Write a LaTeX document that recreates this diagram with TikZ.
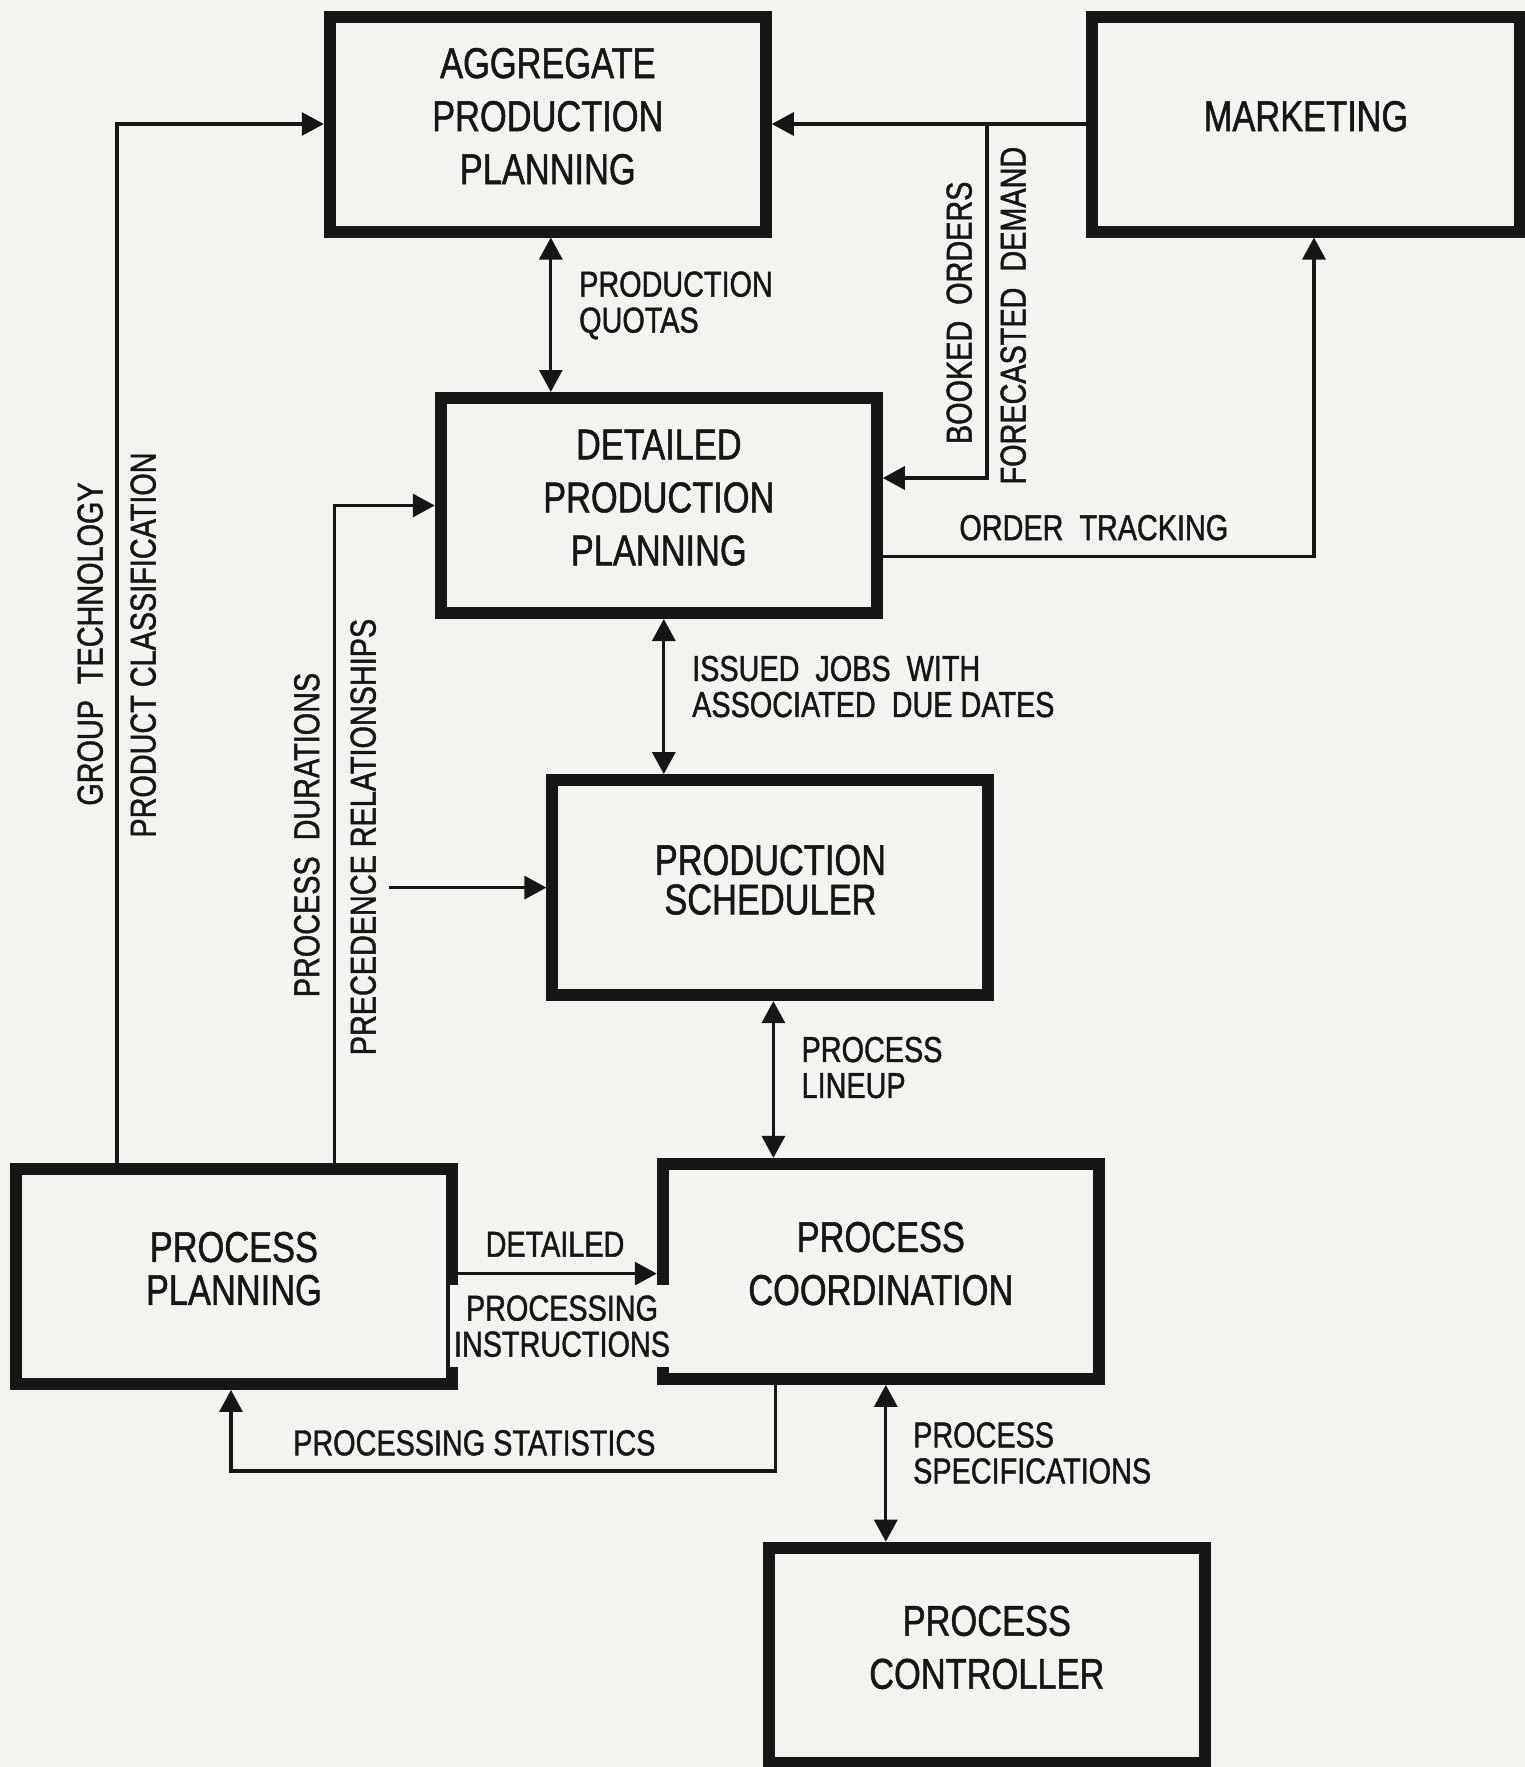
\documentclass[tikz,border=0pt]{standalone}
\usepackage{fontspec}
\setmainfont{Liberation Sans}[FakeStretch=0.8,FakeBold=1.2]
\usetikzlibrary{arrows.meta}
\definecolor{bg}{RGB}{243,243,239}
\definecolor{ink}{RGB}{22,22,22}
\begin{document}
\begin{tikzpicture}[x=1pt,y=-1pt,
  box/.style={draw=ink, line width=12pt, minimum width=436pt, minimum height=215pt,
    inner sep=0pt, align=center, text depth=16pt, text=ink,
    font=\fontsize{43}{53}\selectfont},
  lab/.style={inner sep=0pt, align=left, text depth=0pt, text=ink,
    font=\fontsize{36}{36}\selectfont},
  tip/.tip={Triangle[length=22pt,width=23pt]},
  conn/.style={draw=ink, line width=3.2pt, -tip},
  dbl/.style={draw=ink, line width=3.2pt, tip-tip}
]
\fill[bg] (0,0) rectangle (1525,1767);
\useasboundingbox (0,0) rectangle (1525,1767);

% boxes
\node[box] (app) at (547.8,124) {AGGREGATE\\PRODUCTION\\PLANNING};
\node[box, minimum width=428pt] (mkt) at (1306,124) {MARKETING};
\node[box] (dpp) at (658.8,505.5) {DETAILED\\PRODUCTION\\PLANNING};
\node[box, font=\fontsize{43}{39.5}\selectfont] (ps) at (770.4,887.6) {PRODUCTION\\SCHEDULER};
\node[box, font=\fontsize{43}{43}\selectfont] (pp) at (233.9,1276.4) {PROCESS\\PLANNING};
\node[box] (pc) at (880.8,1271.4) {PROCESS\\COORDINATION};
\node[box] (pctl) at (986.8,1655.2) {PROCESS\\CONTROLLER};

% vertical double arrows
\draw[dbl] ([xshift=3pt]app.south) -- ([xshift=3pt]app.south |- dpp.north);
\draw[dbl] ([xshift=5pt]dpp.south) -- ([xshift=5pt]dpp.south |- ps.north);
\draw[dbl] ([xshift=3pt]ps.south) -- ([xshift=3pt]ps.south |- pc.north);
\draw[dbl] ([xshift=5pt]pc.south) -- ([xshift=5pt]pc.south |- pctl.north);

% marketing links
\coordinate (br) at (987,124);
\coordinate (bo) at (987,478);
\draw[conn] (mkt.west) -- (app.east);
\draw[conn] (br) -- (bo) -- (bo -| dpp.east);
\coordinate (ot) at (1314,556.8);
\draw[conn] (ot -| dpp.east) -- (ot) -- (ot |- mkt.south);

% process planning links
\coordinate (gt) at (117,124);
\draw[conn] (gt |- pp.north) -- (gt) -- (app.west);
\coordinate (pd) at (334.7,505.5);
\draw[conn] (pd |- pp.north) -- (pd) -- (dpp.west);
\coordinate (pr) at (389,887.6);
\draw[conn] (pr) -- (ps.west);
\coordinate (di) at (0,1273.6);
\draw[conn] (pp.east |- di) -- (pc.west |- di);
\coordinate (st) at (775.5,1471);
\coordinate (st2) at (231,1471);
\draw[conn] (st |- pc.south) -- (st) -- (st2) -- (st2 |- pp.south);

% labels
\node[lab, anchor=west] (lq) at (579,302) {PRODUCTION\\QUOTAS};
\node[lab, anchor=west] (lj) at (692,686.4) {ISSUED\ \ JOBS\ \ WITH\\ASSOCIATED\ \ DUE DATES};
\node[lab, anchor=west] (ll) at (801.4,1067.4) {PROCESS\\LINEUP};
\node[lab, anchor=west] (ls) at (913,1452.8) {PROCESS\\SPECIFICATIONS};
\node[lab, anchor=west] (lo) at (959.2,527.5) {ORDER\ \ TRACKING};
\node[lab, anchor=west] (lst) at (293,1442.7) {PROCESSING STATISTICS};
\node[lab] (ld) at (555,1244.3) {DETAILED};
\node[lab, align=center, fill=bg, inner xsep=4pt, inner ysep=10pt] (lpi) at (562,1326) {PROCESSING\\INSTRUCTIONS};
\node[lab, rotate=90] (lg) at (90,644) {GROUP\ \ TECHNOLOGY};
\node[lab, rotate=90] (lpc) at (143,645) {PRODUCT CLASSIFICATION};
\node[lab, rotate=90] (lpd) at (306.6,835) {PROCESS\ \ DURATIONS};
\node[lab, rotate=90] (lpr) at (363,837) {PRECEDENCE RELATIONSHIPS};
\node[lab, rotate=90] (lb) at (959,312.8) {BOOKED\ \ ORDERS};
\node[lab, rotate=90] (lf) at (1013,315.6) {FORECASTED\ \ DEMAND};
\end{tikzpicture}
\end{document}
